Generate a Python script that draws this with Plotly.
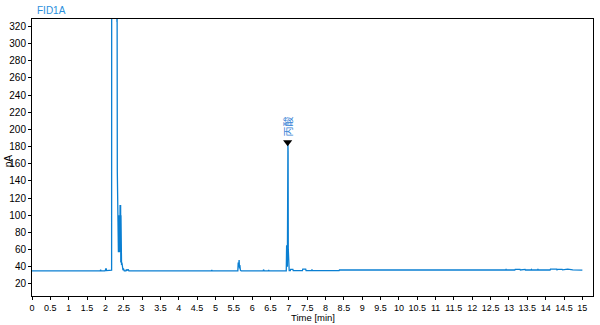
import plotly.graph_objects as go

# --- data ---
time_min = [0.00, 1.86, 1.87, 1.88, 1.99, 2.00, 2.02, 2.03, 2.16, 2.17, 2.175, 2.31, 2.315, 2.32,
            2.325, 2.33, 2.335, 2.34, 2.35, 2.355, 2.36, 2.365, 2.37, 2.38, 2.39, 2.395, 2.40,
            2.41, 2.415, 2.42, 2.425, 2.43, 2.44, 2.45, 2.46, 2.47, 2.48, 2.49, 2.50, 2.515,
            2.56, 2.57, 2.58, 2.60, 2.61, 2.62, 2.64, 4.89, 4.90, 4.91, 5.61, 5.62, 5.63, 5.645,
            5.655, 5.665, 5.68, 5.70, 6.30, 6.31, 6.33, 6.44, 6.45, 6.46, 6.93, 6.94, 6.945,
            6.955, 6.96, 6.965, 6.97, 6.975, 6.98, 6.985, 6.99, 7.00, 7.005, 7.01, 7.04, 7.05,
            7.11, 7.12, 7.37, 7.38, 7.46, 7.47, 7.62, 7.63, 7.64, 8.37, 8.38, 12.91, 12.92,
            12.93, 13.16, 13.17, 13.30, 13.31, 13.44, 13.45, 13.60, 13.61, 13.62, 13.78, 13.79,
            13.80, 14.12, 14.13, 14.30, 14.31, 14.32, 14.45, 14.46, 14.60, 14.61, 14.73, 14.74,
            15.00]
signal_pA = [35.2, 35.2, 36.6, 35.2, 35.2, 38.3, 38.3, 35.5, 35.5, 36.0, 1000, 1000, 325, 330,
             151, 118, 151, 120, 68, 57, 68, 58, 100, 57, 100, 60, 112, 91, 112, 45, 100, 44,
             42, 45, 38, 42, 36, 38, 35.5, 35.3, 35.3, 37.0, 35.5, 37.0, 35.5, 37.0, 35.3, 35.3,
             36.2, 35.3, 35.3, 45.0, 40.0, 48.0, 38.0, 42.0, 36.0, 35.3, 35.3, 36.6, 35.3, 35.3,
             36.2, 35.3, 35.3, 65.0, 50.0, 60.0, 40.0, 183.0, 170.0, 183.0, 175.0, 60.0, 44.0,
             40.0, 36.0, 35.5, 35.5, 37.0, 37.0, 35.5, 35.5, 37.2, 37.2, 35.5, 35.5, 37.0, 35.5,
             35.5, 36.3, 36.3, 37.0, 36.3, 36.3, 37.1, 37.1, 36.3, 37.0, 36.3, 36.3, 37.0, 36.3,
             36.3, 36.9, 36.3, 36.3, 37.2, 37.2, 36.5, 37.0, 37.0, 36.5, 37.2, 37.2, 36.4,
             36.4, 36.2]

peak_time = [6.968]
peak_mark = [185.0]
peak_name = ["丙酸"]

x_ticks = [i * 0.5 for i in range(31)]
x_tick_text = ["0", "0.5", "1", "1.5", "2", "2.5", "3", "3.5", "4", "4.5", "5", "5.5", "6",
               "6.5", "7", "7.5", "8", "8.5", "9", "9.5", "10", "10.5", "11", "11.5", "12",
               "12.5", "13", "13.5", "14", "14.5", "15"]
y_ticks = list(range(20, 321, 20))

LINE = "#0a7fd2"
FONT = "Liberation Sans, Arial, sans-serif"

fig = go.Figure()
fig.add_trace(go.Scatter(x=time_min, y=signal_pA, mode="lines",
                         line=dict(color=LINE, width=1.3), hoverinfo="skip", showlegend=False))
fig.add_trace(go.Scatter(x=peak_time, y=peak_mark, mode="markers",
                         marker=dict(symbol="triangle-down", size=8, color="black"),
                         showlegend=False, hoverinfo="skip"))

fig.add_annotation(x=peak_time[0], y=203, text=peak_name[0], textangle=-90, showarrow=False,
                   font=dict(family="Noto Sans CJK SC", size=10, color="#3c86d6"))
fig.add_annotation(xref="paper", yref="paper", x=0.005, y=1.03, text="FID1A", showarrow=False,
                   xanchor="left", yanchor="middle", font=dict(family=FONT, size=10, color="#2a8fdc"))
fig.add_annotation(xref="paper", yref="paper", x=-0.0428, y=0.49, text="pA", showarrow=False,
                   textangle=-90, xanchor="center", yanchor="middle",
                   font=dict(family=FONT, size=10, color="black"))
fig.add_annotation(xref="paper", yref="paper", x=0.501, y=-0.079, text="Time [min]", showarrow=False,
                   xanchor="center", yanchor="middle", borderpad=0,
                   font=dict(family=FONT, size=9.5, color="black"))

fig.update_layout(
    width=600, height=325,
    margin=dict(l=32, r=7, t=19, b=29),
    paper_bgcolor="white", plot_bgcolor="white",
    font=dict(family=FONT, size=10, color="black"),
)
fig.update_xaxes(range=[0, 15.29], tickvals=x_ticks, ticktext=x_tick_text, tickangle=0,
                 showgrid=False, zeroline=False, showline=True, linecolor="black", linewidth=1,
                 mirror=True, ticks="outside", ticklen=3, tickcolor="black",
                 tickfont=dict(family=FONT, size=9, color="black"))
fig.update_yaxes(range=[6, 328.6], tickvals=y_ticks, showgrid=False, zeroline=False,
                 showline=True, linecolor="black", linewidth=1, mirror=True,
                 ticks="outside", ticklen=3, tickcolor="black",
                 tickfont=dict(family=FONT, size=10, color="black"))

fig.write_html("out.html")
